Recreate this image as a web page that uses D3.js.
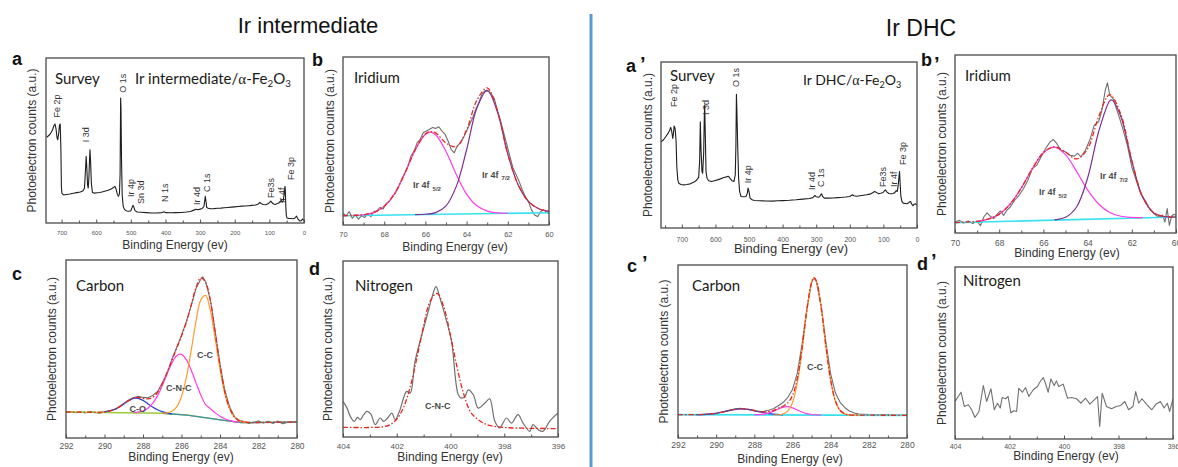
<!DOCTYPE html>
<html>
<head>
<meta charset="utf-8">
<script src="https://cdn.jsdelivr.net/npm/d3@7"></script>
<style>
  body { margin: 0; background: #fff; }
  svg { display: block; }
</style>
</head>
<body>
<div id="chart"></div>
<script>
// ---------------------------------------------------------------
// XPS spectra: [binding energy (eV), photoelectron counts (a.u.)]
// ---------------------------------------------------------------

// Survey scans
const surveyIntermediate = [[743,52],[737,53],[731,54.5],[726,56.5],[722,59],[719,60],[716,57],[713,51.5],[711,50.5],[708,55],[706,59.5],[704,60],[702,45],[700.5,22],[699,18],[694,17],[686,17.3],[676,17.6],[666,18],[656,18.4],[646,18.8],[638,19.5],[634,21],[631,32],[629,40.4],[627,33],[625,23],[623,21.2],[621,28],[619,40],[618,44.4],[616,36],[614,24],[611,18.5],[605,18.1],[597,18.3],[589,18.5],[581,18.9],[573,19.4],[565,19.8],[557,20.6],[550,21.5],[546,22.2],[543,20.8],[539,17.5],[536,16.2],[533,17.5],[531,30],[529.5,75.8],[528.5,70],[527,40],[525,17],[522,10],[518,8.1],[512,7.3],[505,7.1],[500,7.4],[497,9],[494,10.7],[491,9.5],[488,7.5],[482,6.7],[470,6.5],[455,6.3],[440,6.1],[425,6.1],[410,6.3],[404,6.8],[400,6.3],[385,6.2],[370,6.3],[355,6.4],[340,6.7],[328,7.0],[318,7.8],[312,8.3],[306,8.0],[300,8.4],[294,8.8],[289,10],[287,13],[285,16.2],[283,13],[281,9.5],[277,8.9],[270,8.6],[260,8.7],[250,8.9],[240,9.0],[230,9.2],[220,9.4],[210,9.6],[200,9.8],[190,10],[180,10.2],[170,10.3],[160,10.5],[150,10.7],[140,10.9],[132,11.5],[128,12.5],[124,11.8],[118,11.2],[110,11.1],[103,11.8],[99,12.5],[96,13.3],[93,12.4],[88,11.5],[82,11.3],[76,11.8],[70,12.4],[66,13.7],[63,12.6],[60,13.5],[57,18],[55,22.2],[54,20],[52.5,10],[51,4.5],[49,3.0],[44,2.8],[38,2.7],[32,2.6],[27,2.9],[24,3.5],[21.5,4.2],[19,3],[16,2.0],[12,1.2],[9,1.4],[6,1.8],[4,2.4],[2,1.9],[0,1.6]];

const surveyDHC = [[762,52],[755,53],[748,55],[741,57],[736,59],[733,60.6],[730,58],[727,54],[725,57],[723,61.4],[720,60],[717,52],[715,37],[712,29],[709,27],[703,26.2],[695,26],[685,26.2],[675,26.6],[665,27.5],[656,28.8],[650,30.5],[647,40],[645,64],[643,48],[640,34],[638,33],[635,45],[633,68],[632,74],[630,55],[628,34],[625,30],[620,28.5],[612,28],[603,28.5],[594,29],[585,29.6],[575,30.4],[567,30.8],[562,31.2],[557,30],[551,28.5],[545,28],[541,32],[539,50],[537.5,80.6],[536,70],[534,52],[531,30],[528,22],[524,19],[516,18.8],[509,19],[505,21],[503,24],[500,22],[497,18],[491,17],[484,16.6],[470,16.4],[450,16.3],[430,16.2],[415,16.4],[400,16.5],[380,16.7],[360,17],[340,17.4],[320,17.8],[310,18.3],[304,19.6],[300,18.8],[294,18.5],[290,18.8],[286,20.2],[284,20.6],[281,19],[276,18],[266,18],[250,18.1],[235,18.3],[222,18.5],[212,18.7],[200,19],[192,20],[188,19.4],[180,19.1],[165,19.6],[150,20],[140,20.4],[132,21.2],[126,22],[120,21.3],[114,20.6],[108,20.9],[101,21.4],[97,22.4],[94,23],[90,21.8],[84,20.8],[77,20.6],[70,20.8],[65,21.5],[62,22.5],[59,22],[57,24],[54,30],[52,34],[50,26],[48,19],[45,16],[41,15],[35,14.8],[30,14.6],[26,15],[22,15.8],[19,16],[16,14.5],[12,13.4],[9,14.2],[5,14.6],[2,14.2],[0,14]];

// Survey peak assignments: [label, BE, counts at label foot]
const surveyPeaksIntermediate = [["Fe 2p",713,64],["I 3d",629,49],["O 1s",523,79],["Ir 4p",499,15.8],["Sn 3d",471,11.5],["N 1s",401,12.7],["Ir 4d",309,10.9],["C 1s",280,18.8],["Fe3s",95,15.2],["Ir 4f",63,12.1],["Fe 3p",37,26]];
const surveyPeaksDHC = [["Fe 2p",724,72.9],["I 3d",628,68],["O 1s",539,85],["Ir 4p",503,27],["Ir 4d",313,22.9],["C 1s",286,24.7],["Fe3s",101,24.7],["Ir 4f",68,24.7],["Fe 3p",42,38]];

// Ir 4f region, Ir intermediate
const irInterRaw = [[70,7],[69.85,5.5],[69.7,8],[69.55,4],[69.4,6],[69.25,3.5],[69.1,5.5],[68.95,4.5],[68.8,6.5],[68.65,5],[68.5,8],[68.35,8.5],[68.2,10.5],[68.05,9.5],[67.9,13],[67.75,14],[67.6,17],[67.45,19],[67.3,23],[67.15,27],[67.0,31],[66.85,35],[66.7,41],[66.55,44],[66.4,49],[66.25,51],[66.1,55],[65.95,56],[65.8,57],[65.65,58],[65.5,57.5],[65.35,58.5],[65.2,56],[65.05,54],[64.9,50],[64.75,45],[64.6,43],[64.45,47],[64.3,49],[64.15,52],[64.0,56],[63.85,60],[63.7,64],[63.55,69],[63.4,73],[63.25,78],[63.1,80],[62.95,79.5],[62.8,78],[62.65,75],[62.5,68],[62.35,62],[62.2,55],[62.05,48],[61.9,41],[61.75,34],[61.6,30],[61.45,26],[61.3,21],[61.15,17],[61.0,14],[60.85,9],[60.7,6],[60.55,5],[60.4,8],[60.25,9],[60.1,7.5],[60,7]];
const irInterBackground = [[70,5.5],[60,7.3]];
const irInter4f52 = [[69.5,5.7],[69,6.1],[68.5,7.4],[68,11.1],[67.5,18.6],[67,30.7],[66.5,44.6],[66,54.0],[65.75,55.3],[65.5,53.7],[65,43.8],[64.5,30.1],[64,18.4],[63.5,11.4],[63,8.3],[62.5,7.2],[62,7.0]];
const irInter4f72 = [[66.5,6.15],[66,6.4],[65.5,7.4],[65,11.4],[64.5,23.0],[64,44.8],[63.5,69.6],[63,80.1],[62.5,67.2],[62,42.1],[61.5,24.0],[61,14.1],[60.5,9.7],[60,8.1]];
const irInterEnvelope = [[70,5.5],[69.5,5.7],[69,6.1],[68.5,7.4],[68,11.1],[67.5,18.6],[67,30.7],[66.5,44.6],[66,54.2],[65.75,55.6],[65.5,54.8],[65,48.8],[64.5,46.6],[64,56.6],[63.5,74.3],[63,81.6],[62.5,67.6],[62,42.2],[61.5,24.0],[61,14.1],[60.5,9.7],[60,8.1]];

// Ir 4f region, Ir DHC
const irDhcRaw = [[70,6.2],[69.8,7.1],[69.6,5.6],[69.4,6.8],[69.2,5.3],[69.0,6.6],[68.85,4.1],[68.7,9.0],[68.55,11.3],[68.4,9.4],[68.25,8.1],[68.1,10.5],[67.95,12.4],[67.8,9.9],[67.65,12.8],[67.5,14.6],[67.3,18.4],[67.1,21.2],[66.9,25.0],[66.7,29.6],[66.5,36.2],[66.3,38.1],[66.1,42.8],[65.9,47.5],[65.7,51.2],[65.55,52.5],[65.4,50.3],[65.2,46.5],[65.0,45.6],[64.8,43.7],[64.6,43.2],[64.45,44.7],[64.3,42.8],[64.1,46.5],[63.9,52.2],[63.7,60.6],[63.5,62.5],[63.35,69.0],[63.2,80.3],[63.1,84.4],[63.0,77.5],[62.85,75.6],[62.7,70.0],[62.55,64.4],[62.4,58.2],[62.2,49.3],[62.0,37.1],[61.8,29.6],[61.6,22.1],[61.4,18.4],[61.2,13.7],[61.0,10.9],[60.8,9.0],[60.6,9.9],[60.5,6.2],[60.4,13.7],[60.3,4.3],[60.2,9.4],[60.1,10.5],[60.0,9.9]];
const irDhcBackground = [[70,5.8],[60,9.0]];
const irDhc4f52 = [[69,6.55],[68.5,7.8],[68,10.6],[67.5,16.3],[67,25.3],[66.5,36.2],[66,45.1],[65.5,48.2],[65,44.0],[64.5,34.6],[64,24.2],[63.5,16.3],[63,11.5],[62.5,9.4],[62,8.75],[61.5,8.6]];
const irDhc4f72 = [[65.5,7.4],[65,8.8],[64.5,14.6],[64,30.9],[63.5,56.9],[63,74.2],[62.9,74.7],[62.5,65.6],[62,40.4],[61.5,19.9],[61,11.3],[60.5,9.2],[60,9.0]];
const irDhcEnvelope = [[70,5.8],[69.5,6.1],[69,6.55],[68.5,7.8],[68,10.6],[67.5,16.3],[67,25.3],[66.5,36.2],[66,45.1],[65.5,48.4],[65,45.4],[64.5,41.6],[64,47.4],[63.5,65.3],[63,77.7],[62.5,66.8],[62,40.75],[61.5,20.0],[61,11.3],[60.5,9.2],[60,9.0]];

// C 1s region, Ir intermediate
const cInterRaw = [[292,14.3],[291.75,14.9],[291.5,14.2],[291.25,14.7],[291,14.0],[290.75,14.8],[290.5,14.4],[290.25,13.9],[290,14.9],[289.75,15.3],[289.5,15.9],[289.25,17.6],[289,19.4],[288.75,21.3],[288.5,22.6],[288.25,23.4],[288,22.8],[287.75,22.6],[287.5,23.9],[287.25,26.0],[287,30.9],[286.75,36.4],[286.5,44.2],[286.25,50.8],[286,57.7],[285.75,65.4],[285.5,74.2],[285.25,84.0],[285,89.2],[284.9,90.6],[284.75,87.9],[284.5,77.6],[284.25,59.8],[284,41.5],[283.75,26.7],[283.5,17.5],[283.25,12.0],[283,9.9],[282.75,9.3],[282.5,8.1],[282.25,8.9],[282,9.6],[281.75,8.4],[281.5,9.4],[281.25,8.2],[281,9.5],[280.75,8.0],[280.5,8.7],[280.25,9.3],[280,8.8]];
const cInterBackground = [[292,14.6],[287,13.9],[285.7,12.8],[284.7,11.3],[283.6,9.6],[282.9,8.6],[280,9.0]];
const cInterCO = [[290,14.6],[289.5,16.0],[289.25,17.35],[289,19.15],[288.75,21.0],[288.5,22.25],[288.25,22.3],[288,21.15],[287.75,19.3],[287.5,17.4],[287.25,15.85],[287,14.8],[286.75,14.05],[286.5,13.6]];
const cInterCNC = [[288.5,14.3],[288.25,14.6],[288,15.2],[287.75,16.7],[287.5,19.4],[287.25,23.65],[287,29.4],[286.75,36.0],[286.5,42.1],[286.25,46.2],[286,47.0],[285.75,44.0],[285.5,38.2],[285.25,31.1],[285,24.25],[284.75,18.8],[284.5,16.5],[284.25,14.1],[284,12.2],[283.75,10.8],[283.5,9.9],[283.25,9.2],[283,8.8]];
const cInterCC = [[287,14.0],[286.75,14.1],[286.5,15.0],[286.25,17.5],[286,23.35],[285.75,33.85],[285.5,48.9],[285.25,65.3],[285,77.45],[284.75,80.1],[284.5,71.6],[284.25,55.8],[284,38.8],[283.75,25.0],[283.5,16.4],[283.25,11.7],[283,9.6],[282.5,8.7]];
const cInterEnvelope = [[292,14.6],[291,14.5],[290,14.6],[289.5,15.95],[289.25,17.35],[289,19.15],[288.75,21.0],[288.5,22.4],[288.25,22.8],[288,22.3],[287.75,22.0],[287.5,22.8],[287.25,25.55],[287,30.4],[286.75,36.8],[286.5,43.7],[286.25,50.4],[286,57.25],[285.75,65.0],[285.5,74.6],[285.25,84.3],[285,89.95],[284.75,87.5],[284.5,77.1],[284.25,59.3],[284,40.8],[283.75,26.0],[283.5,16.8],[283.25,11.8],[283,9.6],[282.5,8.7],[282,8.72],[281,8.86],[280,9.0]];

// C 1s region, Ir DHC
const cDhcRaw = [[292,13.4],[291.5,13.6],[291,13.3],[290.5,13.8],[290,14.2],[289.5,15.6],[289,16.9],[288.75,17.2],[288.5,16.6],[288.25,16.3],[288,15.7],[287.75,15.2],[287.5,15.4],[287.25,16.0],[287,16.9],[286.75,18.6],[286.5,20.5],[286.25,23.4],[286,28.0],[285.75,37.5],[285.5,54.0],[285.25,74.5],[285,90.0],[284.875,92.5],[284.75,90.5],[284.5,76.5],[284.25,55.5],[284,37.0],[283.75,26.0],[283.5,20.5],[283.25,17.5],[283,15.5],[282.75,14.4],[282.5,13.9],[282,13.5],[281.5,13.3],[281,13.4],[280.5,13.2],[280,13.3]];
const cDhcBackground = [[292,13.5],[280,13.1]];
const cDhcCO = [[291,13.45],[290.5,13.65],[290,14.25],[289.5,15.4],[289,16.6],[288.5,16.8],[288,15.85],[287.5,14.6],[287,13.75],[286.5,13.4]];
const cDhcCNC = [[288,13.35],[287.5,13.75],[287,15.4],[286.75,16.7],[286.5,17.8],[286.25,18.1],[286,17.4],[285.75,16.2],[285.5,15.0],[285.25,14.1],[285,13.6],[284.75,13.4],[284.5,13.3]];
const cDhcCC = [[287,13.3],[286.5,13.85],[286.25,15.5],[286,20.4],[285.75,31.5],[285.5,50.4],[285.25,73.0],[285,89.7],[284.875,92.5],[284.75,90.7],[284.5,75.6],[284.25,53.1],[284,33.4],[283.75,21.4],[283.5,15.9],[283.25,13.95],[283,13.4],[282.5,13.2]];
const cDhcEnvelope = [[292,13.5],[291,13.5],[290.5,13.7],[290,14.3],[289.5,15.4],[289,16.6],[288.5,16.8],[288,15.9],[287.5,15.05],[287,15.85],[286.75,17.2],[286.5,18.35],[286.25,20.3],[286,24.55],[285.75,34.4],[285.5,52.1],[285.25,73.8],[285,89.95],[284.875,92.7],[284.75,90.8],[284.5,75.6],[284.25,53.1],[284,33.4],[283.75,21.4],[283.5,15.9],[283.25,13.9],[283,13.4],[282,13.2],[281,13.15],[280,13.1]];

// N 1s region, Ir intermediate
const nInterRaw = [[404,20.2],[403.85,16.4],[403.73,11.7],[403.58,8.9],[403.46,11.2],[403.36,9.8],[403.23,12.7],[403.11,14.6],[402.96,13.0],[402.8,7.0],[402.62,10.8],[402.49,8.9],[402.34,10.8],[402.18,13.6],[402.06,9.8],[401.9,14.6],[401.63,25.9],[401.5,25.0],[401.32,42.9],[401.0,61.8],[400.82,72],[400.7,78.8],[400.54,85.4],[400.39,78.8],[400.14,65.6],[399.96,54.3],[399.71,24.0],[399.59,22.1],[399.46,23.1],[399.34,26.8],[399.15,24.0],[398.97,16.4],[398.72,19.3],[398.54,21.7],[398.35,8.9],[398.17,5.1],[397.92,10.8],[397.73,7.9],[397.49,12.7],[397.3,7.9],[397.05,3.2],[396.93,7.0],[396.74,4.2],[396.56,3.2],[396.31,8.9],[396.0,13.6]];
const nInterEnvelope = [[404,5.5],[403,5.4],[402.5,5.85],[402.25,7.0],[402,10.1],[401.75,16.7],[401.5,28.4],[401.25,45.0],[401,63.3],[400.75,77.4],[400.5,81.6],[400.25,73.8],[400,57.6],[399.75,39.2],[399.5,24.0],[399.25,14.1],[399,10.2],[398.75,7.7],[398.5,6.4],[398,5.4],[397,4.9],[396,4.8]];

// N 1s region, Ir DHC
const nDhcRaw = [[404,21.8],[403.88,24.7],[403.78,27.2],[403.66,18.9],[403.51,19.9],[403.39,17.0],[403.27,12.5],[403.12,16.0],[402.96,31.1],[402.84,21.8],[402.68,29.2],[402.56,17.0],[402.44,20.8],[402.34,18.0],[402.27,24.1],[402.14,23.4],[402.05,24.7],[401.95,15.1],[401.85,16.4],[401.74,16.0],[401.66,29.5],[401.53,27.2],[401.41,29.9],[401.29,24.7],[401.13,28.6],[400.97,30.5],[400.89,33.0],[400.76,35.7],[400.68,32.4],[400.58,27.2],[400.48,34.9],[400.36,31.1],[400.28,33.8],[400.19,30.5],[400.03,31.9],[399.87,23.7],[399.73,24.1],[399.54,23.4],[399.38,20.8],[399.21,23.7],[399.05,20.3],[398.89,22.8],[398.77,24.7],[398.69,7.3],[398.6,26.6],[398.44,18.9],[398.26,17.6],[398.08,18.9],[397.92,19.5],[397.77,21.8],[397.63,17.0],[397.47,18.9],[397.37,27.6],[397.26,20.8],[397.14,23.4],[396.95,19.9],[396.78,17.0],[396.62,20.3],[396.46,21.8],[396.33,18.0],[396.21,20.8],[396.12,16.0],[396.0,23.4]];

// Component labels: [label, subscript, BE, counts]
const irInterLabels = [["Ir 4f", "5/2", 66.6, 22], ["Ir 4f", "7/2", 63.25, 28]];
const irDhcLabels = [["Ir 4f", "5/2", 66.2, 21.3], ["Ir 4f", "7/2", 63.44, 30.3]];
const cInterLabels = [["C-C", "", 285.2, 44.9], ["C-N-C", "", 286.8, 26.4], ["C-O", "", 288.7, 14.6]];
const cDhcLabels = [["C-C", "", 285.24, 39.3]];
const nInterLabels = [["C-N-C", "", 400.95, 15.9]];

// Axis ticks
const surveyMajorTicks = [700, 600, 500, 400, 300, 200, 100, 0];
const surveyMinorTicks = [750, 650, 550, 450, 350, 250, 150, 50];
const irMajorTicks = [70, 68, 66, 64, 62, 60];
const irMinorTicks = [69, 67, 65, 63, 61];
const cMajorTicks = [292, 290, 288, 286, 284, 282, 280];
const cMinorTicks = [291, 289, 287, 285, 283, 281];
const nMajorTicks = [404, 402, 400, 398, 396];
const nMinorTicks = [403, 401, 399, 397];

// ---------------------------------------------------------------
// Drawing
// ---------------------------------------------------------------
const SANS = "'Liberation Sans', Arial, sans-serif";
const HEAD = "Lato, 'Open Sans', sans-serif";
const C = {
  survey: '#1e1e1e', raw: '#707070', fit: '#e8261c', bg: '#38e0ef',
  pink: '#ff3ce6', purple: '#7e2f96', orange: '#ff9a2e', blue: '#2b3fd3',
  green: '#9acb3a', teal: '#3f8fa6'
};
const DASH = '5,2,1.5,2';

const svg = d3.select('#chart').append('svg')
  .attr('width', 1178).attr('height', 467);

// column headings and divider
svg.append('text').attr('x', 308).attr('y', 33).attr('text-anchor', 'middle')
  .style('font', `22px ${SANS}`).attr('fill', '#111').text('Ir intermediate');
svg.append('text').attr('x', 921).attr('y', 36).attr('text-anchor', 'middle')
  .style('font', `23px ${SANS}`).attr('fill', '#111').text('Ir DHC');
svg.append('line').attr('x1', 591).attr('x2', 591).attr('y1', 14).attr('y2', 467)
  .attr('stroke', '#5b9bd5').attr('stroke-width', 3);

function formula(sel, prefix) {
  sel.append('tspan').text(prefix);
  sel.append('tspan').style('font-family', "'Liberation Serif', serif").text('α');
  sel.append('tspan').text('-Fe');
  sel.append('tspan').attr('font-size', '0.65em').attr('dy', 3).text('2');
  sel.append('tspan').attr('dy', -3).text('O');
  sel.append('tspan').attr('font-size', '0.65em').attr('dy', 3).text('3');
}

let clipCount = 0;
function drawPanel(p) {
  const x = d3.scaleLinear().domain(p.domain).range([p.x0, p.x1]);
  const y = d3.scaleLinear().domain([0, 100]).range([p.y1, p.y0]);
  const g = svg.append('g');
  const id = 'clip' + (clipCount++);
  g.append('clipPath').attr('id', id).append('rect')
    .attr('x', p.x0).attr('y', p.y0).attr('width', p.x1 - p.x0).attr('height', p.y1 - p.y0);
  const plot = g.append('g').attr('clip-path', `url(#${id})`);

  p.series.forEach(s => {
    const line = d3.line().x(d => x(d[0])).y(d => y(d[1]))
      .curve(s.smooth ? d3.curveCatmullRom.alpha(0.5) : d3.curveLinear);
    plot.append('path').datum(s.data).attr('d', line)
      .attr('fill', 'none').attr('stroke', s.color)
      .attr('stroke-width', s.width || 1.1)
      .attr('stroke-dasharray', s.dash || null)
      .attr('stroke-linejoin', 'round');
  });

  // ticks (inward, bottom only)
  const [lo, hi] = d3.extent(p.domain);
  const minorVals = p.minor.filter(v => v >= lo && v <= hi);
  const minorAx = g.append('g').attr('transform', `translate(0,${p.y1})`)
    .call(d3.axisBottom(x).tickValues(minorVals).tickSize(-2.5).tickFormat(''));
  minorAx.select('.domain').remove();
  minorAx.selectAll('line').attr('stroke', '#555');
  const majorAx = g.append('g').attr('transform', `translate(0,${p.y1})`)
    .call(d3.axisBottom(x).tickValues(p.major).tickSize(-3.5).tickFormat(d3.format('d')));
  majorAx.select('.domain').remove();
  majorAx.selectAll('line').attr('stroke', '#555');
  majorAx.selectAll('text').attr('y', p.tickOff).attr('dy', 0)
    .attr('fill', '#555').style('font', `${p.tickSize}px ${SANS}`);

  // frame
  g.append('rect').attr('x', p.x0).attr('y', p.y0)
    .attr('width', p.x1 - p.x0).attr('height', p.y1 - p.y0)
    .attr('fill', 'none').attr('stroke', '#4a4a4a').attr('stroke-width', 1.3);

  // axis titles
  g.append('text').attr('x', p.titleX).attr('y', p.titleY).attr('text-anchor', 'middle')
    .attr('fill', '#333').style('font', `${p.titleSize || 12}px ${SANS}`)
    .text('Binding Energy (ev)');
  g.append('text')
    .attr('transform', `translate(${p.ylabX},${(p.y0 + p.y1) / 2}) rotate(-90)`)
    .attr('text-anchor', 'middle').attr('dy', '0.35em')
    .attr('fill', '#333').style('font', `12px ${SANS}`)
    .text('Photoelectron counts (a.u.)');

  // panel letter
  g.append('text').attr('x', p.letter[0]).attr('y', p.letter[1])
    .style('font', `bold 18px ${SANS}`).attr('fill', '#111').text(p.letter[2]);
  if (p.prime) {
    g.append('text').attr('x', p.prime[0]).attr('y', p.prime[1])
      .style('font', `bold 20px ${SANS}`).attr('fill', '#111').text('’');
  }

  // headings inside the frame
  p.headings.forEach(h => {
    const t = g.append('text').attr('x', h.x).attr('y', h.y)
      .attr('fill', '#1a1a1a').style('font', `${h.size || 15}px ${HEAD}`);
    if (h.formula) formula(t, h.text); else t.text(h.text);
  });

  // survey peak assignments
  (p.peaks || []).forEach(([txt, be, v]) => {
    g.append('text')
      .attr('transform', `translate(${x(be)},${y(v)}) rotate(-90)`)
      .attr('dy', '0.35em').attr('fill', '#333')
      .style('font', `9px ${SANS}`).text(txt);
  });

  // fitted component labels
  (p.compLabels || []).forEach(([txt, sub, be, v]) => {
    const t = g.append('text').attr('x', x(be)).attr('y', y(v))
      .attr('fill', '#4a4a4a').style('font', `bold 9px ${SANS}`);
    t.append('tspan').text(txt);
    if (sub) t.append('tspan').attr('dx', 3).attr('dy', 2.5)
      .style('font-size', '6px').text(sub);
  });
}

const panels = [
  { // a
    x0: 46, x1: 304, y0: 58, y1: 223, domain: [745, 0],
    major: surveyMajorTicks, minor: surveyMinorTicks, tickSize: 6, tickOff: 12,
    titleX: 175, titleY: 248.5, ylabX: 32,
    letter: [12, 65, 'a'],
    headings: [{ x: 55, y: 84, text: 'Survey' },
               { x: 135, y: 84, text: 'Ir intermediate/', formula: true }],
    peaks: surveyPeaksIntermediate,
    series: [{ data: surveyIntermediate, color: C.survey, width: 1.1 }]
  },
  { // b
    x0: 343, x1: 549, y0: 57, y1: 225, domain: [70, 60],
    major: irMajorTicks, minor: irMinorTicks, tickSize: 7.5, tickOff: 11.5,
    titleX: 455, titleY: 250.5, ylabX: 330,
    letter: [312, 66, 'b'],
    headings: [{ x: 354, y: 83, text: 'Iridium' }],
    compLabels: irInterLabels,
    series: [
      { data: irInterRaw, color: C.raw, width: 1.1 },
      { data: irInterBackground, color: C.bg, width: 1.6 },
      { data: irInter4f52, color: C.pink, width: 1.2, smooth: true },
      { data: irInter4f72, color: C.purple, width: 1.2, smooth: true },
      { data: irInterEnvelope, color: C.fit, width: 1.3, dash: DASH, smooth: true }
    ]
  },
  { // c
    x0: 66, x1: 297, y0: 260, y1: 438, domain: [292, 280],
    major: cMajorTicks, minor: cMinorTicks, tickSize: 8.4, tickOff: 11,
    titleX: 181, titleY: 461, ylabX: 52,
    letter: [12, 280, 'c'],
    headings: [{ x: 76, y: 291, text: 'Carbon' }],
    compLabels: cInterLabels,
    series: [
      { data: cInterRaw, color: C.raw, width: 1.1 },
      { data: cInterBackground, color: C.green, width: 1.3 },
      { data: cInterBackground.filter(d => d[0] <= 287), color: C.teal, width: 1.3 },
      { data: cInterCO, color: C.blue, width: 1.2, smooth: true },
      { data: cInterCNC, color: C.pink, width: 1.2, smooth: true },
      { data: cInterCC, color: C.orange, width: 1.2, smooth: true },
      { data: cInterEnvelope, color: C.fit, width: 1.3, dash: DASH, smooth: true }
    ]
  },
  { // d
    x0: 343, x1: 558, y0: 261, y1: 437, domain: [404, 396],
    major: nMajorTicks, minor: nMinorTicks, tickSize: 8, tickOff: 11.5,
    titleX: 450, titleY: 460.5, ylabX: 328,
    letter: [309, 275, 'd'],
    headings: [{ x: 355, y: 291, text: 'Nitrogen' }],
    compLabels: nInterLabels,
    series: [
      { data: nInterRaw, color: C.raw, width: 1.2, smooth: true },
      { data: nInterEnvelope, color: C.fit, width: 1.3, dash: DASH, smooth: true }
    ]
  },
  { // a'
    x0: 661, x1: 917, y0: 62, y1: 228, domain: [762, 0],
    major: surveyMajorTicks, minor: surveyMinorTicks, tickSize: 7, tickOff: 13.5,
    titleX: 791, titleY: 253, titleSize: 13, ylabX: 648,
    letter: [626, 72, 'a'], prime: [640, 71],
    headings: [{ x: 670, y: 81, text: 'Survey' },
               { x: 803, y: 85, text: 'Ir DHC/', formula: true, size: 14 }],
    peaks: surveyPeaksDHC,
    series: [{ data: surveyDHC, color: C.survey, width: 1.1 }]
  },
  { // b'
    x0: 955, x1: 1176, y0: 55, y1: 233, domain: [70, 60],
    major: irMajorTicks, minor: irMinorTicks, tickSize: 8.4, tickOff: 12.5,
    titleX: 1067, titleY: 257, ylabX: 942,
    letter: [921, 66, 'b'], prime: [934, 71],
    headings: [{ x: 965, y: 81, text: 'Iridium' }],
    compLabels: irDhcLabels,
    series: [
      { data: irDhcRaw, color: C.raw, width: 1.1 },
      { data: irDhcBackground, color: C.bg, width: 1.6 },
      { data: irDhc4f52, color: C.pink, width: 1.2, smooth: true },
      { data: irDhc4f72, color: C.purple, width: 1.2, smooth: true },
      { data: irDhcEnvelope, color: C.fit, width: 1.3, dash: DASH, smooth: true }
    ]
  },
  { // c'
    x0: 678, x1: 907, y0: 265, y1: 438, domain: [292, 280],
    major: cMajorTicks, minor: cMinorTicks, tickSize: 8.6, tickOff: 10,
    titleX: 790, titleY: 463, ylabX: 664,
    letter: [627, 272, 'c'], prime: [642, 270],
    headings: [{ x: 692, y: 291, text: 'Carbon' }],
    compLabels: cDhcLabels,
    series: [
      { data: cDhcRaw, color: C.raw, width: 1.1 },
      { data: cDhcBackground, color: C.bg, width: 1.6 },
      { data: cDhcCO, color: C.blue, width: 1.2, smooth: true },
      { data: cDhcCNC, color: C.pink, width: 1.2, smooth: true },
      { data: cDhcCC, color: C.orange, width: 1.2, smooth: true },
      { data: cDhcEnvelope, color: C.fit, width: 1.3, dash: DASH, smooth: true }
    ]
  },
  { // d'
    x0: 955, x1: 1173, y0: 267, y1: 439, domain: [404, 396],
    major: nMajorTicks, minor: nMinorTicks, tickSize: 7, tickOff: 9.5,
    titleX: 1066, titleY: 460, ylabX: 942,
    letter: [917, 270, 'd'], prime: [931, 268],
    headings: [{ x: 963, y: 286, text: 'Nitrogen' }],
    series: [{ data: nDhcRaw, color: C.raw, width: 1.1 }]
  }
];

panels.forEach(drawPanel);
</script>
</body>
</html>
